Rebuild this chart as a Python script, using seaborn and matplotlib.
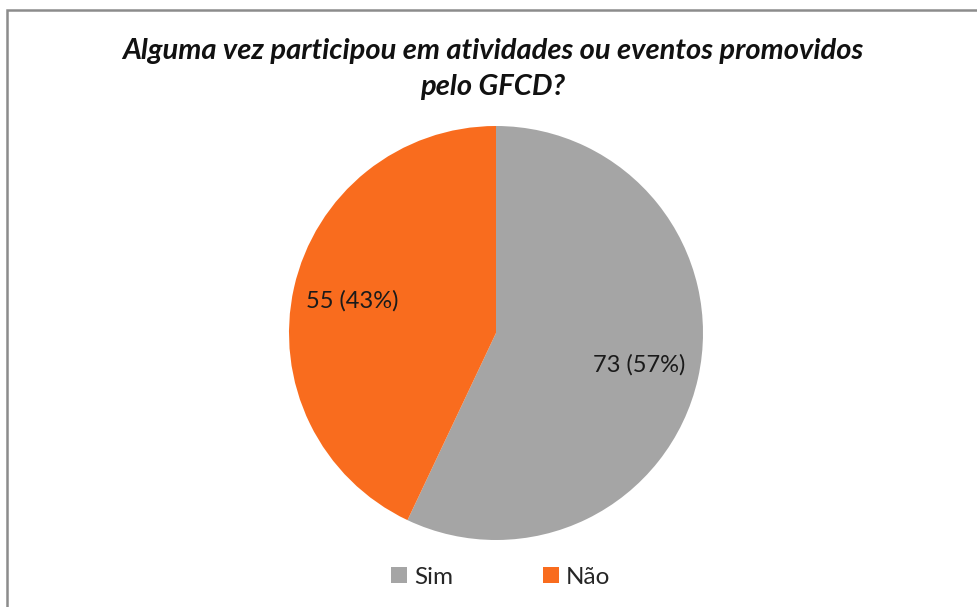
import matplotlib
matplotlib.use('Agg')
import matplotlib.pyplot as plt
import seaborn as sns
from matplotlib.patches import Rectangle
from matplotlib.lines import Line2D

categorias = ['Sim', 'Não']
valores = [73, 55]
cores = ['#A5A5A5', '#F96C1E']
titulo = 'Alguma vez participou em atividades ou eventos promovidos\npelo GFCD?'

sns.set_style('white')
plt.rcParams['font.family'] = ['Lato', 'DejaVu Sans']

W, H = 977, 607
fig = plt.figure(figsize=(W / 100, H / 100), dpi=100)

# moldura cinza do gráfico
fig.patches.append(Rectangle((6.5 / W, -0.01), 1.02, 1 - 9.5 / H + 0.01,
                             transform=fig.transFigure, fill=False,
                             edgecolor='#8C8C8C', linewidth=1.8))

cx, cy, r = 496, 333, 207
ax = fig.add_axes([(cx - r) / W, (H - cy - r) / H, 2 * r / W, 2 * r / H])

total = sum(valores)
ax.pie(valores, colors=cores, startangle=90, counterclock=False,
       autopct=lambda p: f'{round(p * total / 100):d} ({p:.0f}%)',
       pctdistance=0.71, textprops={'fontsize': 17, 'color': '#1a1a1a'},
       wedgeprops={'linewidth': 0})
ax.set_xlim(-1, 1)
ax.set_ylim(-1, 1)
ax.set_aspect('auto')
ax.axis('off')

fig.text(0.504, 1 - 69 / H, titulo, ha='center', va='center', fontsize=21,
         fontweight='bold', fontstyle='italic', linespacing=1.45, color='#111111')

handles = [Line2D([], [], marker='s', linestyle='', markersize=12,
                  markerfacecolor=c, markeredgewidth=0) for c in cores]
fig.legend(handles, categorias, loc='center', bbox_to_anchor=(0.511, 1 - 577 / H),
           ncol=2, frameon=False, fontsize=17.5, handletextpad=0.15,
           columnspacing=3.6, handlelength=0.9)

fig.savefig('out.png', dpi=100)
